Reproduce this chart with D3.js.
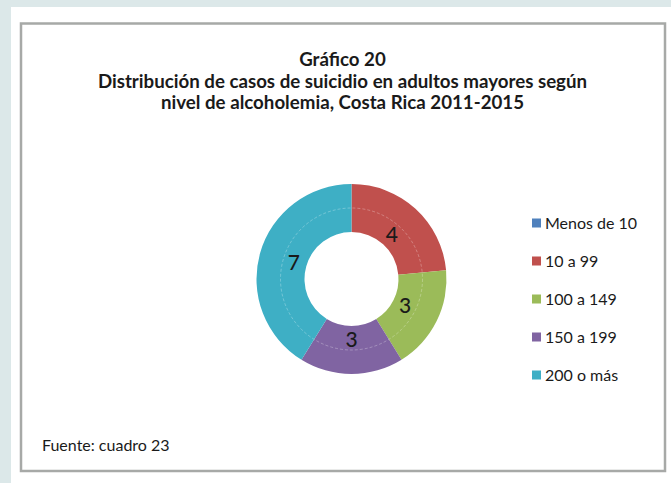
<!DOCTYPE html>
<html>
<head>
  <meta charset="utf-8">
  <title>Gráfico 20</title>
  <script src="https://d3js.org/d3.v7.min.js"></script>
  <style>
  body { margin: 0; background: #ffffff; }
  text { font-family: Lato, "Open Sans", sans-serif; fill: #1a1a1a; }
</style>
</head>
<body>
  <div id="chart"></div>
  <script>
// data
var categories = ["Menos de 10", "10 a 99", "100 a 149", "150 a 199", "200 o más"];
var values = [0, 4, 3, 3, 7];
var colors = ["#4f81bd", "#c0504d", "#9bbb59", "#8064a2", "#3eafc5"];
var titleLines = ["Gráfico 20", "Distribución de casos de suicidio en adultos mayores según", "nivel de alcoholemia, Costa Rica 2011-2015"];
var sourceText = "Fuente: cuadro 23";

var width = 671, height = 483;

var svg = d3.select("#chart")
  .append("svg")
  .attr("width", width)
  .attr("height", height);

// page background strips
svg.append("rect").attr("x", 0).attr("y", 0).attr("width", width).attr("height", 7).attr("fill", "#dce8e9");
svg.append("rect").attr("x", 0).attr("y", 0).attr("width", 11).attr("height", height).attr("fill", "#dce8e9");

// chart frame
svg.append("rect")
  .attr("x", 21).attr("y", 23.5)
  .attr("width", 644).attr("height", 447.5)
  .attr("fill", "#fff")
  .attr("stroke", "#a7a9a7")
  .attr("stroke-width", 2.5);

// title
svg.append("g")
  .selectAll("text")
  .data(titleLines)
  .enter()
  .append("text")
  .attr("x", 342.5)
  .attr("y", function(d, i) { return 66 + i * 21.5; })
  .attr("text-anchor", "middle")
  .attr("font-size", 18.7)
  .attr("font-weight", "bold")
  .text(function(d) { return d; });

// donut
var cx = 351.5, cy = 279, rOuter = 95, rInner = 47;

var color = d3.scaleOrdinal().domain(categories).range(colors);

var pie = d3.pie()
  .sort(null)
  .value(function(d) { return d.value; });

var arcs = pie(categories.map(function(c, i) { return { name: c, value: values[i] }; }));

var arc = d3.arc().innerRadius(rInner).outerRadius(rOuter);
var labelArc = d3.arc().innerRadius(60).outerRadius(60);

var donut = svg.append("g").attr("transform", "translate(" + cx + "," + cy + ")");

donut.selectAll("path")
  .data(arcs.filter(function(d) { return d.value > 0; }))
  .enter()
  .append("path")
  .attr("d", arc)
  .attr("fill", function(d) { return color(d.data.name); });

// faint ring between the two doughnut rings
donut.append("circle")
  .attr("r", 71)
  .attr("fill", "none")
  .attr("stroke", "#ffffff")
  .attr("stroke-opacity", 0.35)
  .attr("stroke-width", 0.8)
  .attr("stroke-dasharray", "3,2");

donut.selectAll("text.lbl")
  .data(arcs.filter(function(d) { return d.value > 0; }))
  .enter()
  .append("text")
  .attr("class", "lbl")
  .attr("transform", function(d) { return "translate(" + labelArc.centroid(d) + ")"; })
  .attr("text-anchor", "middle")
  .attr("dy", "0.36em")
  .attr("font-size", 21)
  .attr("font-weight", 500)
  .text(function(d) { return d.value; });

// legend
var legend = svg.append("g").attr("transform", "translate(532,223)");

var item = legend.selectAll("g")
  .data(categories)
  .enter()
  .append("g")
  .attr("transform", function(d, i) { return "translate(0," + (i * 38) + ")"; });

item.append("rect")
  .attr("x", 0).attr("y", -4.5)
  .attr("width", 9).attr("height", 9)
  .attr("fill", function(d) { return color(d); });

item.append("text")
  .attr("x", 13)
  .attr("dy", "0.36em")
  .attr("font-size", 16)
  .text(function(d) { return d; });

// source note
svg.append("text")
  .attr("x", 42)
  .attr("y", 451)
  .attr("font-size", 16)
  .text(sourceText);
</script>
</body>
</html>
